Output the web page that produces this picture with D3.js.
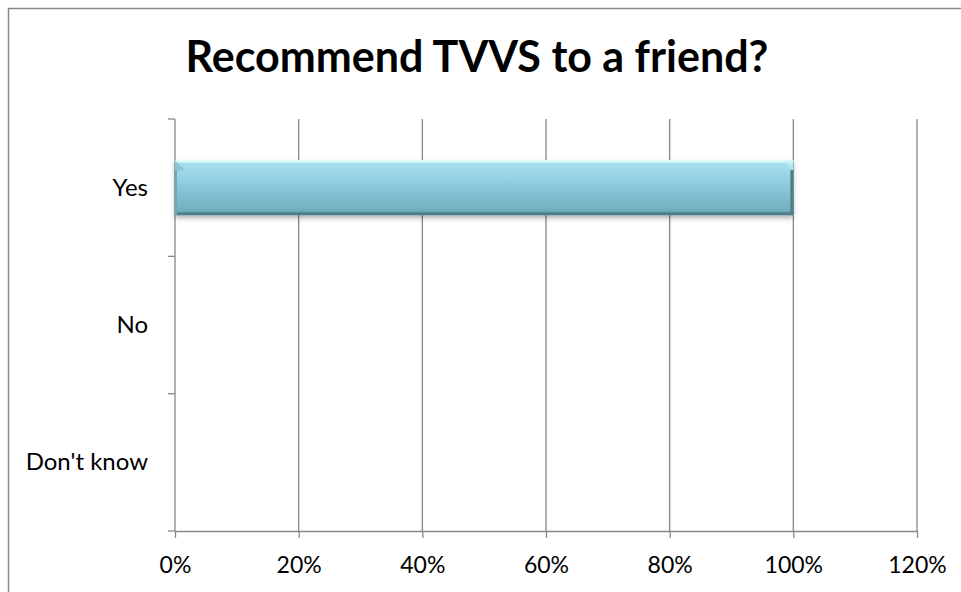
<!DOCTYPE html>
<html>
<head>
<meta charset="utf-8">
<script src="https://cdn.jsdelivr.net/npm/d3@7"></script>
<style>
  html, body { margin: 0; padding: 0; background: #fff; }
  svg { display: block; font-family: Lato, "Open Sans", "Liberation Sans", sans-serif; }
</style>
</head>
<body>
<svg id="chart" width="961" height="592"></svg>
<script>
// Survey answers and their share of respondents
const categories = ["Yes", "No", "Don't know"];
const shares = [1.0, 0, 0];
const xTicks = [0, 0.2, 0.4, 0.6, 0.8, 1.0, 1.2];
const title = "Recommend TVVS to a friend?";

const svg = d3.select("#chart");
const W = 961, H = 592;
const plot = { left: 175, right: 917, top: 119, bottom: 531 };
const FONT = "Lato, 'Open Sans', 'Liberation Sans', sans-serif";

// Chart-area frame (top and left edges visible)
svg.append("rect")
  .attr("x", 8.5).attr("y", 8.5)
  .attr("width", W + 20).attr("height", H + 20)
  .attr("fill", "#fff").attr("stroke", "#888").attr("stroke-width", 1.5);

svg.append("text")
  .attr("x", 477).attr("y", 72)
  .attr("text-anchor", "middle")
  .attr("font-size", 43).attr("font-weight", "bold").attr("fill", "#000")
  .text(title);

const x = d3.scaleLinear().domain([0, 1.2]).range([plot.left, plot.right]);
const y = d3.scaleBand().domain(categories).range([plot.top, plot.bottom]).paddingInner(0.6).paddingOuter(0.3);
const band = d3.scaleBand().domain(categories).range([plot.top, plot.bottom]);

const defs = svg.append("defs");
const grad = defs.append("linearGradient").attr("id", "barFill")
  .attr("x1", 0).attr("y1", 0).attr("x2", 0).attr("y2", 1);
[["0%", "#d8fafe"], ["7%", "#a6e0ee"], ["45%", "#8ccadc"], ["85%", "#76b3c3"], ["100%", "#6aa4b3"]]
  .forEach(([o, c]) => grad.append("stop").attr("offset", o).attr("stop-color", c));
const shadow = defs.append("filter").attr("id", "barShadow")
  .attr("x", "-5%").attr("y", "-20%").attr("width", "110%").attr("height", "160%");
shadow.append("feDropShadow").attr("dx", 0).attr("dy", 3).attr("stdDeviation", 2.5)
  .attr("flood-color", "#000").attr("flood-opacity", 0.3);

// Vertical gridlines
svg.append("g").selectAll("line")
  .data(xTicks.slice(1))
  .join("line")
  .attr("x1", d => x(d)).attr("x2", d => x(d))
  .attr("y1", plot.top).attr("y2", plot.bottom)
  .attr("stroke", "#888").attr("stroke-width", 1.3);

// Bottom axis
const xAxis = d3.axisBottom(x).tickValues(xTicks).tickFormat(d3.format(".0%")).tickSizeInner(7).tickSizeOuter(0);
const gx = svg.append("g").attr("transform", `translate(0,${plot.bottom})`).call(xAxis);
gx.select(".domain").attr("stroke", "#888").attr("stroke-width", 1.3);
gx.selectAll(".tick line").attr("stroke", "#888").attr("stroke-width", 1.3);
gx.selectAll(".tick text").attr("font-size", 23).attr("fill", "#000")
  .attr("font-family", FONT).attr("y", 42).attr("dy", 0);

// Left axis: category boundaries as ticks
const yAxisLine = svg.append("g");
yAxisLine.append("line")
  .attr("x1", plot.left).attr("x2", plot.left)
  .attr("y1", plot.top).attr("y2", plot.bottom)
  .attr("stroke", "#888").attr("stroke-width", 1.3);
const bounds = categories.map(c => band(c)).concat([plot.bottom]);
yAxisLine.selectAll("line.bt")
  .data(bounds)
  .join("line").attr("class", "bt")
  .attr("x1", plot.left - 7).attr("x2", plot.left)
  .attr("y1", d => d).attr("y2", d => d)
  .attr("stroke", "#888").attr("stroke-width", 1.3);

svg.append("g").selectAll("text")
  .data(categories)
  .join("text")
  .attr("x", 148)
  .attr("y", d => band(d) + band.bandwidth() / 2 + 8)
  .attr("text-anchor", "end")
  .attr("font-size", 24).attr("fill", "#000")
  .text(d => d);

// Bars with bevelled edges
const bars = svg.append("g");
categories.forEach((c, i) => {
  const v = shares[i];
  if (v <= 0) return;
  const x0 = x(0), x1 = x(v), y0 = y(c), h = y.bandwidth();
  const g = bars.append("g");
  g.append("rect")
    .attr("x", x0).attr("y", y0).attr("width", x1 - x0).attr("height", h)
    .attr("fill", "url(#barFill)").attr("filter", "url(#barShadow)");
  g.append("line").attr("x1", x0).attr("x2", x1).attr("y1", y0 + 1).attr("y2", y0 + 1)
    .attr("stroke", "#e2fbff").attr("stroke-width", 2);
  // top-left corner facet (darker) and top-right facet (lighter)
  g.append("polygon")
    .attr("points", `${x0},${y0} ${x0 + 10},${y0 + 10} ${x0},${y0 + 10}`)
    .attr("fill", "#78b5c6").attr("opacity", 0.6);
  g.append("polygon")
    .attr("points", `${x1},${y0} ${x1 - 10},${y0} ${x1},${y0 + 10}`)
    .attr("fill", "#c4eef8").attr("opacity", 0.6);
  g.append("line").attr("x1", x0).attr("x2", x1).attr("y1", y0 + h - 1.5).attr("y2", y0 + h - 1.5)
    .attr("stroke", "#4c7f8b").attr("stroke-width", 3);
  g.append("line").attr("x1", x1 - 1.5).attr("x2", x1 - 1.5).attr("y1", y0 + 10).attr("y2", y0 + h)
    .attr("stroke", "#4c7f8b").attr("stroke-width", 3);
  g.append("line").attr("x1", x0 + 1).attr("x2", x0 + 1).attr("y1", y0 + 10).attr("y2", y0 + h)
    .attr("stroke", "#6aa9b8").attr("stroke-width", 2);
});
</script>
</body>
</html>
